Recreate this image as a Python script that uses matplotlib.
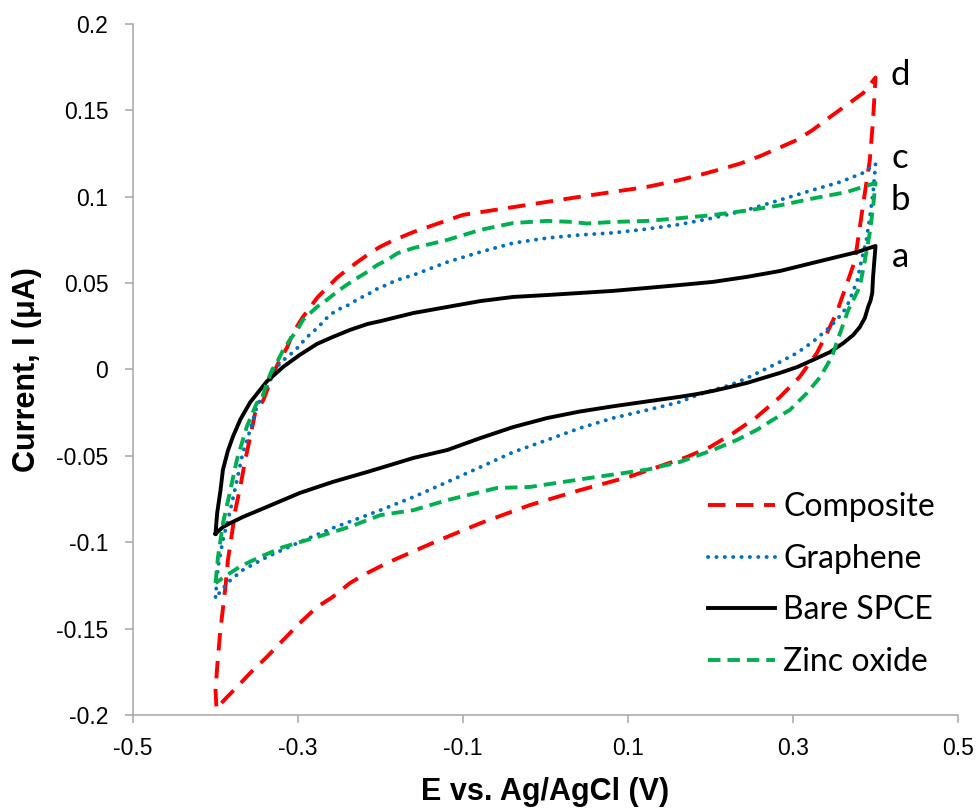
import matplotlib
matplotlib.use("Agg")
import matplotlib.pyplot as plt

# Cyclic voltammograms (E in V, I in uA), forward scan then reverse scan
bare_x = [-0.400, -0.398, -0.394, -0.391, -0.385, -0.379, -0.370, -0.358, -0.338, -0.318,
          -0.298, -0.277, -0.258, -0.237, -0.216, -0.200, -0.160, -0.119, -0.079, -0.039,
          0.002, 0.042, 0.082, 0.123, 0.163, 0.203, 0.244, 0.284, 0.324, 0.353,
          0.378, 0.400,
          0.397, 0.396, 0.394, 0.391, 0.387, 0.381, 0.373, 0.361, 0.345, 0.324,
          0.305, 0.284, 0.264, 0.244, 0.224, 0.203, 0.184, 0.163, 0.123, 0.082,
          0.042, 0.002, -0.039, -0.079, -0.119, -0.160, -0.200, -0.216, -0.258, -0.298,
          -0.338, -0.367, -0.382, -0.391, -0.400]
bare_y = [-0.095, -0.083, -0.070, -0.058, -0.047, -0.039, -0.029, -0.019, -0.007, 0.0015,
          0.0084, 0.0148, 0.0188, 0.0229, 0.0263, 0.028, 0.0327, 0.0362, 0.0396, 0.0420,
          0.0431, 0.0443, 0.0455, 0.0472, 0.0489, 0.0507, 0.0536, 0.0570, 0.0617, 0.0651,
          0.068, 0.0715,
          0.0536, 0.0443, 0.0400, 0.0362, 0.0298, 0.0246, 0.0200, 0.0153, 0.0101, 0.0055,
          0.0014, -0.0020, -0.0049, -0.0078, -0.0101, -0.0124, -0.0142, -0.0158, -0.0185, -0.0213,
          -0.0243, -0.0281, -0.0333, -0.0397, -0.0466, -0.0512, -0.057, -0.0593, -0.0651, -0.0715,
          -0.0796, -0.0854, -0.0889, -0.0912, -0.095]

comp_x = [-0.399, -0.400, -0.398, -0.3945, -0.388, -0.385, -0.380, -0.376, -0.370, -0.364,
          -0.358, -0.352, -0.342, -0.336, -0.330, -0.322, -0.313, -0.306, -0.295, -0.285,
          -0.276, -0.265, -0.253, -0.241, -0.228, -0.216, -0.201, -0.186, -0.160, -0.100,
          -0.039, 0.042, 0.123, 0.163, 0.187, 0.2115, 0.236, 0.260, 0.284, 0.305,
          0.324, 0.345, 0.365, 0.385, 0.400,
          0.397, 0.393, 0.387, 0.381, 0.375, 0.367, 0.353, 0.341, 0.329, 0.308,
          0.284, 0.256, 0.227, 0.199, 0.171, 0.102, 0.042, -0.019, -0.079, -0.130,
          -0.176, -0.192, -0.216, -0.237, -0.258, -0.277, -0.298, -0.318, -0.338, -0.358,
          -0.374, -0.386, -0.395, -0.399]
comp_y = [-0.195, -0.1856, -0.1723, -0.1526, -0.1259, -0.1103, -0.0947, -0.0814, -0.0680, -0.0524,
          -0.0391, -0.0252, -0.0177, -0.0101, -0.0020, 0.0055, 0.0130, 0.0212, 0.0298, 0.0362,
          0.0420, 0.0472, 0.0530, 0.0576, 0.0622, 0.0663, 0.0709, 0.0744, 0.0796, 0.0895,
          0.094, 0.100, 0.1057, 0.1097, 0.1126, 0.1158, 0.1192, 0.1235, 0.1285, 0.1329,
          0.1387, 0.1462, 0.1531, 0.1600, 0.169,
          0.1445, 0.121, 0.102, 0.0826, 0.063, 0.052, 0.033, 0.021, 0.0096, -0.0043,
          -0.016, -0.0275, -0.037, -0.045, -0.0507, -0.062, -0.0698, -0.0785, -0.089, -0.099,
          -0.1086, -0.1120, -0.1178, -0.1236, -0.1317, -0.1375, -0.1468, -0.1566, -0.1665, -0.1757,
          -0.1838, -0.1896, -0.1942, -0.195]

gra_x = [-0.400, -0.397, -0.391, -0.382, -0.374, -0.367, -0.358, -0.350, -0.3315, -0.322,
         -0.310, -0.301, -0.289, -0.282, -0.273, -0.264, -0.253, -0.243, -0.233, -0.225,
         -0.216, -0.207, -0.198, -0.188, -0.180, -0.160, -0.119, -0.079, -0.039, 0.002,
         0.042, 0.082, 0.123, 0.163, 0.203, 0.244, 0.284, 0.324, 0.357, 0.385,
         0.400,
         0.397, 0.393, 0.389, 0.383, 0.378, 0.372, 0.365, 0.353, 0.341, 0.324,
         0.305, 0.284, 0.264, 0.244, 0.224, 0.203, 0.184, 0.163, 0.123, 0.082,
         0.042, 0.002, -0.039, -0.079, -0.119, -0.160, -0.200, -0.216, -0.258, -0.298,
         -0.338, -0.367, -0.386, -0.392, -0.400]
gra_y = [-0.1317, -0.1144, -0.0987, -0.0814, -0.0640, -0.0484, -0.0350, -0.0217, -0.0043, 0.0038,
         0.0084, 0.0124, 0.0188, 0.0217, 0.0258, 0.0304, 0.0345, 0.0362, 0.0391, 0.0414,
         0.0432, 0.0461, 0.0478, 0.0501, 0.0518, 0.0547, 0.0622, 0.068, 0.0732, 0.0761,
         0.0779, 0.0791, 0.0813, 0.0840, 0.0877, 0.0923, 0.0981, 0.1039, 0.1085, 0.1138,
         0.119,
         0.102, 0.088, 0.075, 0.0634, 0.0518, 0.0443, 0.036, 0.0287, 0.023, 0.016,
         0.0096, 0.0043, -0.0003, -0.005, -0.009, -0.0119, -0.0148, -0.0188, -0.0235, -0.0281,
         -0.0339, -0.0408, -0.0478, -0.0565, -0.0651, -0.0738, -0.0814, -0.0843, -0.0918, -0.0999,
         -0.1086, -0.1161, -0.1236, -0.1277, -0.1317]

zno_x = [-0.400, -0.397, -0.391, -0.382, -0.374, -0.362, -0.350, -0.344, -0.338, -0.3315,
         -0.324, -0.318, -0.310, -0.301, -0.294, -0.285, -0.277, -0.265, -0.253, -0.241,
         -0.228, -0.216, -0.204, -0.192, -0.179, -0.160, -0.119, -0.079, -0.039, 0.002,
         0.033, 0.050, 0.082, 0.123, 0.163, 0.203, 0.244, 0.284, 0.324, 0.365,
         0.400,
         0.397, 0.393, 0.387, 0.381, 0.367, 0.357, 0.347, 0.333, 0.317, 0.296,
         0.276, 0.256, 0.232, 0.203, 0.163, 0.123, 0.062, -0.019, -0.059, -0.119,
         -0.160, -0.200, -0.237, -0.277, -0.318, -0.346, -0.370, -0.386, -0.400]
zno_y = [-0.1236, -0.1085, -0.089, -0.0698, -0.052, -0.033, -0.0194, -0.0177, -0.0078, -0.0003,
         0.0055, 0.0113, 0.0171, 0.0229, 0.0287, 0.0327, 0.0362, 0.0403, 0.0449, 0.0490,
         0.0530, 0.0565, 0.0605, 0.0634, 0.0674, 0.0703, 0.075, 0.0808, 0.0848, 0.086,
         0.0854, 0.0845, 0.0854, 0.086, 0.0876, 0.0894, 0.092, 0.095, 0.099, 0.1027,
         0.108,
         0.094, 0.079, 0.063, 0.048, 0.0345, 0.021, 0.0073, -0.0043, -0.0136, -0.0235,
         -0.029, -0.035, -0.0408, -0.0466, -0.0535, -0.058, -0.0622, -0.068, -0.0686, -0.0756,
         -0.0814, -0.0843, -0.091, -0.097, -0.1028, -0.1085, -0.114, -0.119, -0.1236]

x_ticks = [-0.5, -0.3, -0.1, 0.1, 0.3, 0.5]
x_labels = ["-0.5", "-0.3", "-0.1", "0.1", "0.3", "0.5"]
y_ticks = [-0.2, -0.15, -0.1, -0.05, 0, 0.05, 0.1, 0.15, 0.2]
y_labels = ["-0.2", "-0.15", "-0.1", "-0.05", "0", "0.05", "0.1", "0.15", "0.2"]

curve_tags = ["d", "c", "b", "a"]
tag_y = [0.1705, 0.1224, 0.098, 0.065]

fig = plt.figure(figsize=(9.76, 8.10), dpi=100)
ax = fig.add_axes([0.1363, 0.1173, 0.8453, 0.8531])

lw = 2.8
ax.plot(comp_x, comp_y, color="#ff0000", lw=lw, linestyle=(0, (4.5, 2.7)), label="Composite")
ax.plot(gra_x, gra_y, color="#0070c0", lw=lw, linestyle=(0, (0.05, 2.1)),
        dash_capstyle="round", label="Graphene")
ax.plot(bare_x, bare_y, color="black", lw=lw, solid_joinstyle="round", label="Bare SPCE")
ax.plot(zno_x, zno_y, color="#00b050", lw=lw, linestyle=(0, (3.2, 1.8)), label="Zinc oxide")

ax.set_xlim(-0.5, 0.5)
ax.set_ylim(-0.2, 0.2)
ax.set_xticks(x_ticks)
ax.set_xticklabels(x_labels)
ax.set_yticks(y_ticks)
ax.set_yticklabels(y_labels)

for side in ["top", "right"]:
    ax.spines[side].set_visible(False)
for side in ["left", "bottom"]:
    ax.spines[side].set_color("#a6a6a6")
    ax.spines[side].set_linewidth(1.1)

ax.tick_params(axis="both", direction="out", length=5.8, width=1.1, color="#a6a6a6",
               labelsize=16.5, labelcolor="black")
ax.tick_params(axis="y", pad=12)
ax.tick_params(axis="x", pad=10)
for lab in ax.get_xticklabels() + ax.get_yticklabels():
    lab.set_fontfamily(["Liberation Sans", "DejaVu Sans"])

ax.set_xlabel("E vs. Ag/AgCl (V)", fontsize=22, fontweight="bold",
              family=["Liberation Sans", "DejaVu Sans"])
ax.set_ylabel("Current, I (\u03bcA)", fontsize=22, fontweight="bold",
              family=["Liberation Sans", "DejaVu Sans"])
ax.xaxis.set_label_coords(0.5, -0.09)
ax.yaxis.set_label_coords(-0.110, 0.5)

for tag, ty in zip(curve_tags, tag_y):
    ax.text(0.43, ty, tag, fontsize=25, family=["Lato", "DejaVu Sans"],
            ha="center", va="center")

leg = ax.legend(loc="upper left", bbox_to_anchor=(0.697, 0.322), frameon=False,
                prop={"family": ["Lato", "DejaVu Sans"], "size": 23},
                handlelength=2.1, handletextpad=0.25, labelspacing=0.67,
                borderpad=0, borderaxespad=0)

fig.savefig("out.png", dpi=100)
